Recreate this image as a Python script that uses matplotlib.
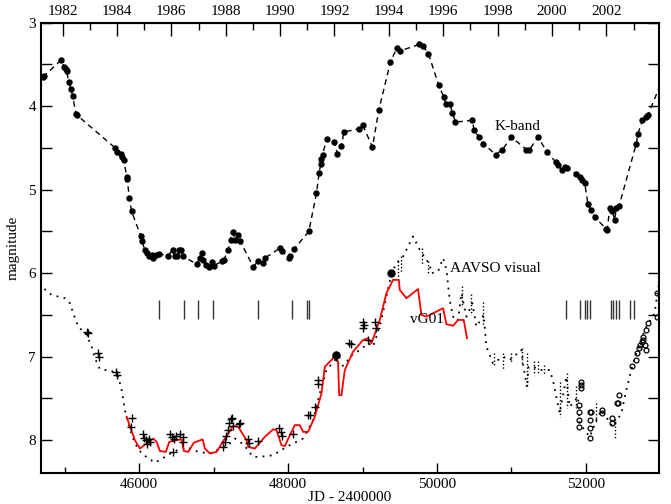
import numpy as np
import matplotlib
matplotlib.use("Agg")
import matplotlib.pyplot as plt
from matplotlib.ticker import MultipleLocator, FixedLocator

plt.rcParams['font.family'] = ['Liberation Serif', 'DejaVu Serif']

# K-band light curve (JD-2400000, mag)
k_jd = [44703, 44720, 44949, 44993, 45016, 45026, 45052, 45083, 45106, 45150, 45168,
        45678, 45705, 45754, 45772, 45791, 45835, 45840, 45866, 45898, 46023, 46036,
        46077, 46107, 46134, 46166, 46188, 46220, 46268, 46389, 46448, 46479, 46510,
        46537, 46560, 46591, 46770, 46815, 46837, 46860, 46895, 46940, 46972, 47003,
        47106, 47137, 47195, 47227, 47254, 47289, 47329, 47352, 47530, 47597, 47656,
        47687, 47889, 47911, 48013, 48031, 48081, 48278, 48381, 48416, 48439, 48448,
        48462, 48519, 48622, 48663, 48716, 48748, 48953, 48999, 49133, 49217, 49374,
        49463, 49499, 49758, 49812, 49884, 50023, 50090, 50117, 50170, 50207, 50247,
        50475, 50497, 50564, 50623, 50788, 50878, 50999, 51200, 51235, 51356, 51477,
        51594, 51625, 51678, 51714, 51750, 51871, 51916, 51952, 51983, 52027, 52063,
        52117, 52274, 52287, 52318, 52354, 52385, 52408, 52443, 52676, 52698, 52757,
        52801, 52832, 53050]
k_mag = [3.65, 3.64, 3.45, 3.53, 3.56, 3.58, 3.71, 3.79, 3.88, 4.09, 4.11,
         4.50, 4.55, 4.57, 4.61, 4.64, 4.85, 4.87, 5.10, 5.26, 5.56, 5.62,
         5.72, 5.76, 5.80, 5.78, 5.82, 5.78, 5.77, 5.79, 5.72, 5.80, 5.80,
         5.72, 5.72, 5.80, 5.89, 5.82, 5.76, 5.84, 5.90, 5.93, 5.87, 5.91,
         5.86, 5.84, 5.72, 5.60, 5.51, 5.60, 5.54, 5.61, 5.92, 5.86, 5.88,
         5.82, 5.70, 5.73, 5.82, 5.79, 5.71, 5.50, 5.04, 4.80, 4.69, 4.63,
         4.58, 4.39, 4.43, 4.57, 4.48, 4.31, 4.27, 4.22, 4.49, 4.05, 3.47,
         3.30, 3.34, 3.26, 3.28, 3.37, 3.75, 3.89, 3.97, 3.97, 4.08, 4.19,
         4.17, 4.29, 4.37, 4.45, 4.58, 4.52, 4.37, 4.52, 4.53, 4.37, 4.55,
         4.67, 4.71, 4.76, 4.73, 4.74, 4.81, 4.85, 4.88, 4.92, 5.17, 5.24,
         5.33, 5.47, 5.48, 5.22, 5.26, 5.36, 5.22, 5.20, 4.45, 4.33, 4.17,
         4.13, 4.11, 3.63]

# AAVSO visual (smoothed, dotted)
v_jd = [44640, 44713, 44824, 45003, 45070, 45114, 45181, 45294, 45361, 45405, 45472,
        45630, 45718, 45764, 45808, 45866, 45942, 46032, 46211, 46345, 46456, 46636,
        46792, 46949, 47083, 47217, 47285, 47400, 47530, 47620, 47799, 47978, 48201,
        48336, 48425, 48515, 48649, 48694, 48761, 48828, 48962, 49074, 49141, 49186,
        49253, 49320, 49388, 49455, 49544, 49678, 49768, 49858, 49902, 49925, 50013,
        50081, 50126, 50170, 50215, 50282, 50327, 50394, 50475, 50529, 50627, 50663,
        50752, 50886, 50976, 51133, 51154, 51208, 51230, 51289, 51378, 51512, 51557,
        51647, 51737, 51781, 51893, 51916, 52050, 52139, 52206, 52362, 52474, 52542,
        52631, 52721, 52810, 52922, 52966, 53000]
v_mag = [6.15, 6.18, 6.26, 6.30, 6.36, 6.48, 6.64, 6.74, 6.88, 7.02, 7.15,
         7.17, 7.24, 7.40, 7.64, 7.84, 8.04, 8.16, 8.27, 8.20, 8.14, 8.08,
         8.14, 8.16, 8.10, 8.04, 7.98, 8.05, 8.20, 8.20, 8.18, 8.08, 7.98,
         7.76, 7.44, 7.16, 7.02, 7.12, 7.10, 7.00, 6.92, 6.84, 6.88, 6.76,
         6.56, 6.28, 6.00, 5.88, 5.80, 5.56, 5.72, 5.84, 5.90, 6.00, 5.98,
         5.82, 5.96, 6.32, 6.52, 6.57, 6.24, 6.52, 6.36, 6.64, 6.50, 6.88,
         7.08, 7.00, 7.04, 6.92, 7.08, 7.37, 7.12, 7.12, 7.16, 7.16, 7.28,
         7.68, 7.24, 7.60, 7.48, 7.80, 7.96, 7.76, 7.64, 7.84, 7.68, 7.40,
         7.08, 6.84, 6.64, 6.48, 6.20, 6.05]

# short vertical streaks of dense visual estimates
s_jd = [49470, 49520, 49800, 49880, 50330, 50460, 50620, 50760, 50890, 50990,
        51140, 51210, 51300, 51350, 51440, 51650, 51740, 51870, 52140, 52390]
s_top = [5.85, 5.80, 5.70, 5.85, 6.15, 6.25, 6.35, 6.95, 6.95, 6.95,
         6.90, 6.95, 7.05, 7.05, 7.10, 7.30, 7.20, 7.35, 7.55, 7.75]
s_bot = [6.05, 6.00, 5.90, 6.02, 6.40, 6.50, 6.62, 7.10, 7.15, 7.08,
         7.10, 7.35, 7.22, 7.20, 7.22, 7.72, 7.62, 7.62, 7.80, 7.98]

# vG01 model curve
r_jd = [45831, 45942, 46009, 46099, 46188, 46234, 46278, 46358, 46403, 46502, 46569,
        46600, 46658, 46734, 46851, 46882, 46949, 47039, 47150, 47262, 47329, 47442,
        47463, 47553, 47687, 47799, 47844, 47911, 47956, 48023, 48090, 48157, 48201,
        48268, 48358, 48448, 48493, 48627, 48671, 48685, 48716, 48761, 48872, 49007,
        49074, 49119, 49231, 49320, 49409, 49486, 49499, 49589, 49745, 49790, 49858,
        50081, 50126, 50215, 50282, 50358, 50403]
r_mag = [7.72, 8.00, 8.10, 8.04, 7.98, 8.02, 8.13, 8.14, 8.02, 8.00, 7.99,
         8.13, 8.14, 8.03, 7.99, 8.10, 8.16, 8.14, 7.98, 7.83, 7.84, 8.00,
         8.08, 8.10, 7.96, 7.87, 7.88, 8.06, 8.07, 7.94, 7.82, 7.82, 7.90,
         7.90, 7.72, 7.44, 7.12, 7.00, 7.06, 7.46, 7.46, 7.16, 6.94, 6.80,
         6.78, 6.84, 6.56, 6.24, 6.08, 6.08, 6.20, 6.30, 6.19, 6.50, 6.52,
         6.42, 6.61, 6.63, 6.56, 6.56, 6.78]

# photographic / other visual estimates (+)
p_jd = [45300, 45315, 45445, 45455, 45685, 45705, 45898, 45885, 46050, 46070, 46090,
        46110, 46130, 46150, 46410, 46440, 46470, 46500, 46550, 46590, 46591, 46456,
        47130, 47150, 47170, 47190, 47210, 47230, 47250, 47260, 47342, 47352, 47460,
        47480, 47600, 47875, 47900, 47915, 48067, 48265, 48295, 48358, 48403, 48403,
        48640, 48649, 48819, 48838, 49007, 49007, 49016, 49164, 49177, 49074]
p_mag = [6.70, 6.72, 6.95, 7.00, 7.18, 7.22, 7.73, 7.84, 7.93, 7.97, 8.00,
         8.04, 7.99, 8.02, 7.93, 7.96, 7.98, 7.95, 7.93, 7.96, 8.02, 8.14,
         8.08, 8.02, 7.95, 7.88, 7.80, 7.75, 7.73, 7.83, 7.81, 7.79, 7.98,
         8.03, 8.01, 7.85, 7.90, 7.95, 7.92, 7.70, 7.70, 7.60, 7.28, 7.33,
         7.00, 6.98, 6.84, 6.85, 6.58, 6.66, 6.62, 6.58, 6.66, 6.80]

# late visual points (open circles)
c_jd = [51938, 51938, 51940, 51905, 51905, 51903, 51903, 52050, 52050, 52055, 52060,
        52070, 52215, 52222, 52345, 52350, 52420, 52430, 52450, 52623, 52676, 52690,
        52710, 52730, 52750, 52770, 52790, 52810, 52760, 52800, 52840, 52950, 52955]
c_mag = [7.30, 7.34, 7.38, 7.58, 7.66, 7.76, 7.84, 7.66, 7.76, 7.86, 7.97,
         7.66, 7.64, 7.68, 7.74, 7.80, 7.56, 7.55, 7.46, 7.11, 7.04, 6.96,
         6.90, 6.86, 6.82, 6.80, 6.86, 6.92, 6.76, 6.68, 6.60, 6.24, 6.52]

# big filled dots
b_jd = [48649, 49388]
b_mag = [6.98, 6.00]

# epochs marked with vertical bars
bar_jd = [46264, 46600, 46792, 46993, 47597, 48054, 48250, 48275,
          51737, 51925, 51983, 52019, 52059, 52341, 52363, 52399, 52443, 52587, 52645]

years = list(range(1982, 2003, 2))


def jd2yr(jd):
    return 2000.0 + (np.asarray(jd, dtype=float) - 51544.5) / 365.25


def yr2jd(yr):
    return 51544.5 + (np.asarray(yr, dtype=float) - 2000.0) * 365.25


fig = plt.figure(figsize=(6.71, 5.04), dpi=100)
ax = fig.add_axes([0.061, 0.062, 0.921, 0.893])

ax.plot(k_jd, k_mag, color='black', linestyle=(0, (4, 3)), linewidth=1.0,
        marker='o', markersize=3.6)
ax.plot(v_jd, v_mag, color='black', linestyle=(0, (1, 3)), linewidth=1.3)
ax.vlines(s_jd, s_top, s_bot, color='black', linestyle=(0, (1, 1.5)), linewidth=1.0)
ax.plot(r_jd, r_mag, color='red', linewidth=1.3)
ax.plot(p_jd, p_mag, linestyle='none', marker='+', color='black',
        markersize=6, markeredgewidth=1.0)
ax.plot(c_jd, c_mag, linestyle='none', marker='o', markerfacecolor='none',
        markeredgecolor='black', markersize=3.5, markeredgewidth=0.9)
ax.plot(b_jd, b_mag, linestyle='none', marker='o', color='black', markersize=5)
ax.vlines(bar_jd, 6.32, 6.55, color='#333333', linewidth=1.0)

ax.text(51074, 4.24, 'K-band', fontsize=11, ha='center', va='center')
ax.text(50172, 5.94, 'AAVSO visual', fontsize=11, ha='left', va='center')
ax.text(49643, 6.56, 'vG01', fontsize=11, ha='left', va='center')

ax.set_xlim(44680, 52980)
ax.set_ylim(8.39, 3.0)
ax.xaxis.set_major_locator(MultipleLocator(2000))
ax.xaxis.set_minor_locator(MultipleLocator(1000))
ax.yaxis.set_major_locator(MultipleLocator(1))
ax.yaxis.set_minor_locator(MultipleLocator(0.5))
ax.tick_params(axis='x', which='major', direction='in', length=7, width=1.0,
               labelsize=11, top=False)
ax.tick_params(axis='x', which='minor', direction='in', length=4, width=1.0, top=False)
ax.tick_params(axis='y', which='both', direction='in', length=8, width=1.0,
               labelsize=11, right=True)
for s in ax.spines.values():
    s.set_linewidth(1.5)

sec = ax.secondary_xaxis('top', functions=(jd2yr, yr2jd))
sec.xaxis.set_major_locator(FixedLocator(years))
sec.xaxis.set_minor_locator(FixedLocator(list(range(1981, 2004))))
sec.tick_params(which='major', direction='in', length=9, width=1.0, labelsize=11)
sec.tick_params(which='minor', direction='in', length=5, width=1.0)

ax.set_xlabel('JD - 2400000', fontsize=11, labelpad=0)
ax.set_ylabel('magnitude', fontsize=11, labelpad=6)

fig.savefig('out.png', dpi=100)
